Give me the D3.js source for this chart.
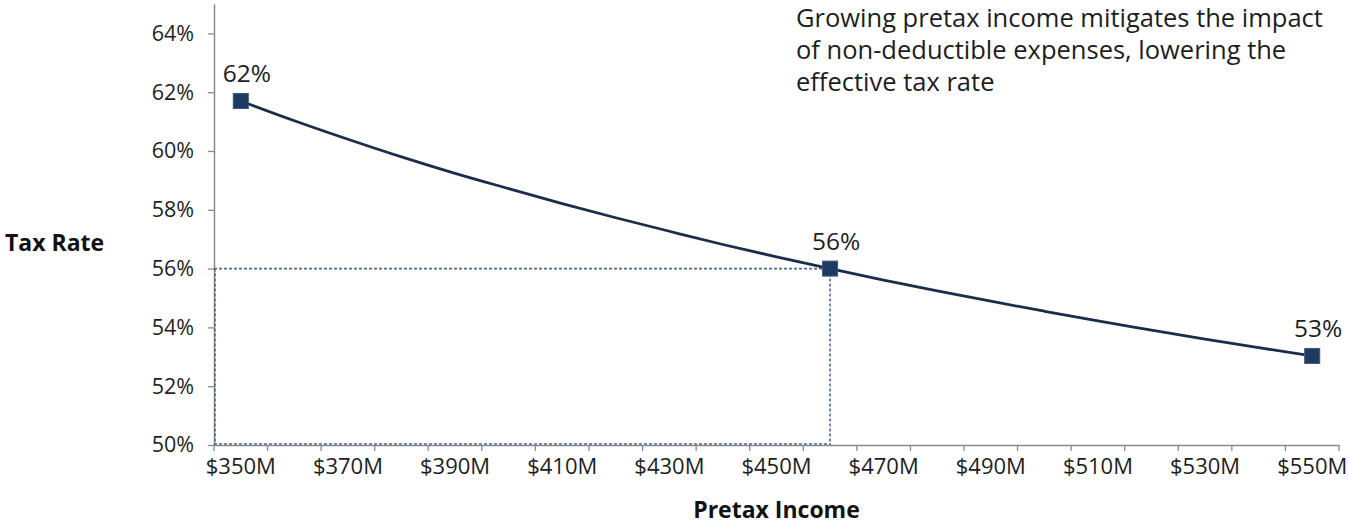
<!DOCTYPE html>
<html>
<head>
<meta charset="utf-8">
<script src="https://cdn.jsdelivr.net/npm/d3@7"></script>
<style>
  html, body { margin: 0; padding: 0; background: #fff; overflow: hidden; }
  svg { display: block; font-family: "Open Sans", "Noto Sans", sans-serif; }
</style>
</head>
<body>
<svg id="chart" width="1348" height="525"></svg>
<script>
// ---- data ----
const incomes = [350, 360, 370, 380, 390, 400, 410, 420, 430, 440, 450, 460, 470, 480, 490, 500, 510, 520, 530, 540, 550];
const taxRates = [61.70, 61.03, 60.40, 59.80, 59.24, 58.72, 58.21, 57.73, 57.27, 56.82, 56.40, 56.00, 55.61, 55.24, 54.89, 54.55, 54.22, 53.91, 53.60, 53.31, 53.03];
const markedIncomes = [350, 460, 550];
const markedLabels = ["62%", "56%", "53%"];
const highlightIncome = 460;
const highlightRate = 56;
const yTicks = [50, 52, 54, 56, 58, 60, 62, 64];
const xLabelIncomes = [350, 370, 390, 410, 430, 450, 470, 490, 510, 530, 550];
const yDomain = [50, 65];
const annotation = ["Growing pretax income mitigates the impact", "of non-deductible expenses, lowering the", "effective tax rate"];

(function () {
const svg = d3.select("#chart");
const pLeft = 214, pRight = 1339, pTop = 4, pBottom = 445;

const xBand = d3.scaleBand().domain(incomes).range([pLeft, pRight]).paddingInner(0).paddingOuter(0);
const xc = v => xBand(v) + xBand.bandwidth() / 2;
const y = d3.scaleLinear().domain(yDomain).range([pBottom, pTop]);

const axisColor = "#8a8a8a";
const textColor = "#1e1e1e";

// Y axis
const yAxis = d3.axisLeft(y).tickValues(yTicks).tickFormat(d => d + "%").tickSize(6).tickPadding(14).tickSizeOuter(0);
const gy = svg.append("g").attr("transform", `translate(${pLeft},0)`).call(yAxis);
gy.select(".domain").attr("stroke", axisColor).attr("stroke-width", 1.5);
gy.selectAll(".tick line").attr("stroke", axisColor).attr("stroke-width", 1.3);
gy.selectAll(".tick text").attr("fill", textColor).style("font-size", "21.5px").style("font-family", "'Open Sans', sans-serif");

// X axis (labels centred on categories)
const xAxis = d3.axisBottom(xBand).tickValues(xLabelIncomes).tickFormat(d => "$" + d + "M").tickSize(0).tickPadding(13).tickSizeOuter(0);
const gx = svg.append("g").attr("transform", `translate(0,${pBottom})`).call(xAxis);
gx.select(".domain").attr("stroke", axisColor).attr("stroke-width", 1.5);
gx.selectAll(".tick text").attr("fill", textColor).style("font-size", "22px").style("font-family", "'Open Sans', sans-serif");

// tick marks at category boundaries
const boundaries = incomes.map(v => xBand(v)).concat([xBand(incomes[incomes.length - 1]) + xBand.bandwidth()]);
svg.append("g").selectAll("line").data(boundaries).join("line")
  .attr("x1", d => d).attr("x2", d => d)
  .attr("y1", pBottom).attr("y2", pBottom + 6)
  .attr("stroke", axisColor).attr("stroke-width", 1.3);

// dashed highlight rectangle
const dashColor = "#4d6b92";
const hx = xc(highlightIncome), hy = y(highlightRate);
const dash = svg.append("g").attr("fill", "none").attr("stroke", dashColor).attr("stroke-width", 1.6).attr("stroke-dasharray", "3,2");
dash.append("line").attr("x1", pLeft).attr("x2", hx).attr("y1", hy).attr("y2", hy);
dash.append("line").attr("x1", hx).attr("x2", hx).attr("y1", hy).attr("y2", y(yDomain[0]));
dash.append("line").attr("x1", pLeft).attr("x2", hx).attr("y1", y(yDomain[0]) - 1).attr("y2", y(yDomain[0]) - 1);
dash.append("line").attr("x1", pLeft + 1).attr("x2", pLeft + 1).attr("y1", hy).attr("y2", y(yDomain[0]));

// line
const pts = incomes.map((v, i) => [v, taxRates[i]]);
const line = d3.line().x(d => xc(d[0])).y(d => y(d[1])).curve(d3.curveMonotoneX);
svg.append("path").datum(pts).attr("d", line)
  .attr("fill", "none").attr("stroke", "#1b2d4b").attr("stroke-width", 2.8);

// markers + labels
const marked = markedIncomes.map((v, i) => ({ x: v, y: taxRates[incomes.indexOf(v)], label: markedLabels[i] }));
const ms = 15;
svg.append("g").selectAll("rect").data(marked).join("rect")
  .attr("x", d => xc(d.x) - ms / 2).attr("y", d => y(d.y) - ms / 2)
  .attr("width", ms).attr("height", ms)
  .attr("fill", "#1f3a60").attr("stroke", "#3b5783").attr("stroke-width", 1);
svg.append("g").selectAll("text").data(marked).join("text")
  .attr("x", d => xc(d.x) + 6).attr("y", d => y(d.y) - 19)
  .attr("text-anchor", "middle").attr("fill", textColor)
  .style("font-size", "24.5px").text(d => d.label);

// axis titles
svg.append("text").attr("x", 5).attr("y", 251).attr("fill", "#111")
  .style("font-size", "23px").style("font-weight", "bold").text("Tax Rate");
svg.append("text").attr("x", (pLeft + pRight) / 2).attr("y", 518).attr("text-anchor", "middle").attr("fill", "#111")
  .style("font-size", "23px").style("font-weight", "bold").text("Pretax Income");

// annotation
svg.append("g").selectAll("text").data(annotation).join("text")
  .attr("x", 796).attr("y", (d, i) => 27 + i * 32)
  .attr("fill", textColor).style("font-size", "25.5px").text(d => d);
})();
</script>
</body>
</html>
